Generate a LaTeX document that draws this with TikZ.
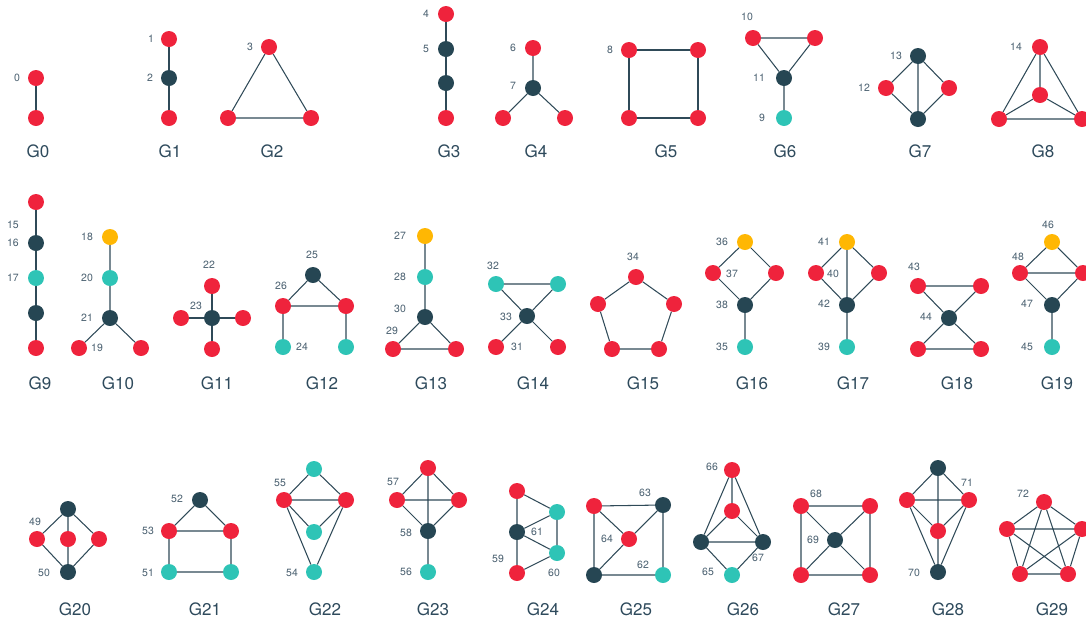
\documentclass[tikz,border=0pt]{standalone}
\usepackage{fontspec}
\setmainfont{TeX Gyre Heros}
\definecolor{cred}{HTML}{EF233C}
\definecolor{cdark}{HTML}{264653}
\definecolor{cteal}{HTML}{2EC4B6}
\definecolor{cyel}{HTML}{FFB703}
\definecolor{cedge}{HTML}{2F4A58}
\definecolor{cnum}{HTML}{4A6070}
\definecolor{cttl}{HTML}{2E4A5C}
\begin{document}
\begin{tikzpicture}[x=1pt,y=-1pt,
  vtx/.style={circle,minimum size=16pt,inner sep=0pt,draw=none},
  nr/.style={vtx,fill=cred},
  nd/.style={vtx,fill=cdark},
  nt/.style={vtx,fill=cteal},
  ny/.style={vtx,fill=cyel},
  ed/.style={draw=cedge,line width=1.05pt},
  num/.style={font=\fontsize{10.5}{12}\selectfont,text=cnum,inner sep=0pt},
  ttl/.style={font=\fontsize{17}{20}\selectfont,text=cttl,inner sep=0pt}]
\useasboundingbox (0,0) rectangle (1086,622);
% G0
\node[nr] (a0) at (36,78) {}; \node[nr] (a1) at (36,118) {};
\draw[ed] (a0)--(a1);
\node[num] (la0) at (17,78) {0}; \node[ttl] (ta) at (38,151) {G0};
% G1
\node[nr] (b0) at (169,39) {}; \node[nd] (b1) at (169,78) {}; \node[nr] (b2) at (169,118) {};
\draw[ed] (b0)--(b1) (b1)--(b2);
\node[num] (lb0) at (151,39) {1}; \node[num] (lb1) at (150,78) {2}; \node[ttl] (tb) at (170,151) {G1};
% G2
\node[nr] (c0) at (269,47) {}; \node[nr] (c1) at (228,118) {}; \node[nr] (c2) at (311,118) {};
\draw[ed] (c0)--(c1) (c0)--(c2) (c1)--(c2);
\node[num] (lc0) at (250,47) {3}; \node[ttl] (tc) at (272,151) {G2};
% G3
\node[nr] (d0) at (446,14) {}; \node[nd] (d1) at (446,49) {}; \node[nd] (d2) at (446,83) {}; \node[nr] (d3) at (446,118) {};
\draw[ed] (d0)--(d1) (d1)--(d2) (d2)--(d3);
\node[num] (ld0) at (426,14) {4}; \node[num] (ld1) at (426,49) {5}; \node[ttl] (td) at (449,151) {G3};
% G4
\node[nr] (e0) at (533,48) {}; \node[nd] (e1) at (533,88) {}; \node[nr] (e2) at (503,118) {}; \node[nr] (e3) at (565,118) {};
\draw[ed] (e0)--(e1) (e1)--(e2) (e1)--(e3);
\node[num] (le0) at (513,48) {6}; \node[num] (le1) at (513,86) {7}; \node[ttl] (te) at (536,151) {G4};
% G5
\node[nr] (f0) at (629,50) {}; \node[nr] (f1) at (698,50) {}; \node[nr] (f2) at (629,118) {}; \node[nr] (f3) at (698,118) {};
\draw[ed] (f0)--(f1) (f1)--(f3) (f3)--(f2) (f2)--(f0);
\node[num] (lf0) at (610,50) {8}; \node[ttl] (tf) at (666,151) {G5};
% G6
\node[nr] (g0) at (753,38) {}; \node[nr] (g1) at (815,38) {}; \node[nd] (g2) at (784,78) {}; \node[nt] (g3) at (784,118) {};
\draw[ed] (g0)--(g1) (g0)--(g2) (g1)--(g2) (g2)--(g3);
\node[num] (lg0) at (747,17) {10}; \node[num] (lg1) at (759,78) {11}; \node[num] (lg2) at (762,118) {9}; \node[ttl] (tg) at (785,151) {G6};
% G7
\node[nd] (h0) at (918,56) {}; \node[nr] (h1) at (886,88) {}; \node[nr] (h2) at (949,88) {}; \node[nd] (h3) at (918,119) {};
\draw[ed] (h0)--(h1) (h0)--(h2) (h0)--(h3) (h1)--(h3) (h2)--(h3);
\node[num] (lh0) at (896,56) {13}; \node[num] (lh1) at (864,88) {12}; \node[ttl] (th) at (920,151) {G7};
% G8
\node[nr] (i0) at (1040,47) {}; \node[nr] (i1) at (1040,95) {}; \node[nr] (i2) at (999,119) {}; \node[nr] (i3) at (1082,119) {};
\draw[ed] (i0)--(i1) (i0)--(i2) (i0)--(i3) (i1)--(i2) (i1)--(i3) (i2)--(i3);
\node[num] (li0) at (1016,47) {14}; \node[ttl] (ti) at (1043,151) {G8};
% G9
\node[nr] (j0) at (36,202) {}; \node[nd] (j1) at (36,243) {}; \node[nt] (j2) at (36,278) {}; \node[nd] (j3) at (36,313) {}; \node[nr] (j4) at (36,348) {};
\draw[ed] (j0)--(j1) (j1)--(j2) (j2)--(j3) (j3)--(j4);
\node[num] (lj0) at (13,225) {15}; \node[num] (lj1) at (13,243) {16}; \node[num] (lj2) at (13,278) {17}; \node[ttl] (tj) at (40,383) {G9};
% G10
\node[ny] (k0) at (110,237) {}; \node[nt] (k1) at (110,278) {}; \node[nd] (k2) at (110,318) {}; \node[nr] (k3) at (79,348) {}; \node[nr] (k4) at (141,348) {};
\draw[ed] (k0)--(k1) (k1)--(k2) (k2)--(k3) (k2)--(k4);
\node[num] (lk0) at (87,237) {18}; \node[num] (lk1) at (87,278) {20}; \node[num] (lk2) at (87,318) {21}; \node[num] (lk3) at (97,348) {19}; \node[ttl] (tk) at (118,383) {G10};
% G11
\node[nr] (l0) at (212,286) {}; \node[nr] (l1) at (181,318) {}; \node[nd] (l2) at (212,318) {}; \node[nr] (l3) at (243,318) {}; \node[nr] (l4) at (212,349) {};
\draw[ed] (l2)--(l0) (l2)--(l1) (l2)--(l3) (l2)--(l4);
\node[num] (ll0) at (209,265) {22}; \node[num] (ll1) at (196,306) {23}; \node[ttl] (tl) at (217,383) {G11};
% G12
\node[nd] (m0) at (313,275) {}; \node[nr] (m1) at (283,306) {}; \node[nr] (m2) at (346,306) {}; \node[nt] (m3) at (283,347) {}; \node[nt] (m4) at (346,347) {};
\draw[ed] (m0)--(m1) (m0)--(m2) (m1)--(m2) (m1)--(m3) (m2)--(m4);
\node[num] (lm0) at (312,255) {25}; \node[num] (lm1) at (281,286) {26}; \node[num] (lm2) at (302,347) {24}; \node[ttl] (tm) at (322,383) {G12};
% G13
\node[ny] (n0) at (425,236) {}; \node[nt] (n1) at (425,277) {}; \node[nd] (n2) at (425,317) {}; \node[nr] (n3) at (393,349) {}; \node[nr] (n4) at (456,349) {};
\draw[ed] (n0)--(n1) (n1)--(n2) (n2)--(n3) (n2)--(n4) (n3)--(n4);
\node[num] (ln0) at (400,236) {27}; \node[num] (ln1) at (400,277) {28}; \node[num] (ln2) at (400,309) {30}; \node[num] (ln3) at (392,331) {29}; \node[ttl] (tn) at (431,383) {G13};
% G14
\node[nt] (o0) at (496,284) {}; \node[nt] (o1) at (558,284) {}; \node[nd] (o2) at (527,316) {}; \node[nr] (o3) at (496,347) {}; \node[nr] (o4) at (558,347) {};
\draw[ed] (o0)--(o1) (o0)--(o2) (o1)--(o2) (o2)--(o3) (o2)--(o4);
\node[num] (lo0) at (493,266) {32}; \node[num] (lo1) at (506,317) {33}; \node[num] (lo2) at (517,347) {31}; \node[ttl] (to) at (533,383) {G14};
% G15
\node[nr] (p0) at (636,277) {}; \node[nr] (p1) at (674,304) {}; \node[nr] (p2) at (659,349) {}; \node[nr] (p3) at (612,349) {}; \node[nr] (p4) at (598,304) {};
\draw[ed] (p0)--(p1) (p1)--(p2) (p2)--(p3) (p3)--(p4) (p4)--(p0);
\node[num] (lp0) at (633,257) {34}; \node[ttl] (tp) at (643,383) {G15};
% G16
\node[ny] (q0) at (745,242) {}; \node[nr] (q1) at (713,273) {}; \node[nr] (q2) at (776,273) {}; \node[nd] (q3) at (745,305) {}; \node[nt] (q4) at (745,347) {};
\draw[ed] (q0)--(q1) (q0)--(q2) (q1)--(q3) (q2)--(q3) (q3)--(q4);
\node[num] (lq0) at (722,242) {36}; \node[num] (lq1) at (732,274) {37}; \node[num] (lq2) at (722,305) {38}; \node[num] (lq3) at (722,347) {35}; \node[ttl] (tq) at (752,383) {G16};
% G17
\node[ny] (r0) at (847,242) {}; \node[nr] (r1) at (816,273) {}; \node[nr] (r2) at (879,273) {}; \node[nd] (r3) at (847,305) {}; \node[nt] (r4) at (847,347) {};
\draw[ed] (r0)--(r1) (r0)--(r2) (r0)--(r3) (r1)--(r3) (r2)--(r3) (r3)--(r4);
\node[num] (lr0) at (824,242) {41}; \node[num] (lr1) at (833,274) {40}; \node[num] (lr2) at (824,304) {42}; \node[num] (lr3) at (824,347) {39}; \node[ttl] (tr) at (853,383) {G17};
% G18
\node[nr] (s0) at (918,286) {}; \node[nr] (s1) at (981,286) {}; \node[nd] (s2) at (949,318) {}; \node[nr] (s3) at (918,349) {}; \node[nr] (s4) at (981,349) {};
\draw[ed] (s0)--(s1) (s0)--(s2) (s1)--(s2) (s2)--(s3) (s2)--(s4) (s3)--(s4);
\node[num] (ls0) at (914,267) {43}; \node[num] (ls1) at (926,317) {44}; \node[ttl] (ts) at (957,383) {G18};
% G19
\node[ny] (u0) at (1052,242) {}; \node[nr] (u1) at (1020,273) {}; \node[nr] (u2) at (1083,273) {}; \node[nd] (u3) at (1052,305) {}; \node[nt] (u4) at (1052,347) {};
\draw[ed] (u0)--(u1) (u0)--(u2) (u1)--(u2) (u1)--(u3) (u2)--(u3) (u3)--(u4);
\node[num] (lu0) at (1048,225) {46}; \node[num] (lu1) at (1018,257) {48}; \node[num] (lu2) at (1027,304) {47}; \node[num] (lu3) at (1027,347) {45}; \node[ttl] (tu) at (1057,383) {G19};
% G20
\node[nd] (v0) at (68,509) {}; \node[nr] (v1) at (37,539) {}; \node[nr] (v2) at (68,539) {}; \node[nr] (v3) at (99,539) {}; \node[nd] (v4) at (68,572) {};
\draw[ed] (v0)--(v1) (v0)--(v2) (v0)--(v3) (v1)--(v4) (v2)--(v4) (v3)--(v4);
\node[num] (lv0) at (35,522) {49}; \node[num] (lv1) at (44,573) {50}; \node[ttl] (tv) at (75,609) {G20};
% G21
\node[nd] (w0) at (200,500) {}; \node[nr] (w1) at (169,531) {}; \node[nr] (w2) at (231,531) {}; \node[nt] (w3) at (169,572) {}; \node[nt] (w4) at (231,572) {};
\draw[ed] (w0)--(w1) (w0)--(w2) (w1)--(w2) (w1)--(w3) (w2)--(w4) (w3)--(w4);
\node[num] (lw0) at (177,499) {52}; \node[num] (lw1) at (148,531) {53}; \node[num] (lw2) at (148,573) {51}; \node[ttl] (tw) at (205,609) {G21};
% G22
\node[nt] (x0) at (314,469) {}; \node[nr] (x1) at (284,500) {}; \node[nr] (x2) at (346,500) {}; \node[nt] (x3) at (314,532) {}; \node[nt] (x4) at (314,572) {};
\draw[ed] (x0)--(x1) (x0)--(x2) (x1)--(x2) (x1)--(x3) (x2)--(x3) (x1)--(x4) (x2)--(x4);
\node[num] (lx0) at (280,483) {55}; \node[num] (lx1) at (292,573) {54}; \node[ttl] (tx) at (325,609) {G22};
% G23
\node[nr] (y0) at (428,468) {}; \node[nr] (y1) at (397,500) {}; \node[nr] (y2) at (459,500) {}; \node[nd] (y3) at (428,531) {}; \node[nt] (y4) at (428,572) {};
\draw[ed] (y0)--(y1) (y0)--(y2) (y1)--(y2) (y0)--(y3) (y1)--(y3) (y2)--(y3) (y3)--(y4);
\node[num] (ly0) at (393,482) {57}; \node[num] (ly1) at (406,533) {58}; \node[num] (ly2) at (406,572) {56}; \node[ttl] (ty) at (433,609) {G23};
% G24
\node[nr] (z0) at (517,491) {}; \node[nd] (z1) at (517,532) {}; \node[nr] (z2) at (517,573) {}; \node[nt] (z3) at (557,512) {}; \node[nt] (z4) at (557,553) {};
\draw[ed] (z0)--(z1) (z1)--(z2) (z0)--(z3) (z1)--(z3) (z1)--(z4) (z2)--(z4) (z3)--(z4);
\node[num] (lz0) at (537,532) {61}; \node[num] (lz1) at (498,559) {59}; \node[num] (lz2) at (554,573) {60}; \node[ttl] (tz) at (543,609) {G24};
% G25
\node[nr] (A0) at (594,506) {}; \node[nd] (A1) at (663,505) {}; \node[nr] (A2) at (629,539) {}; \node[nd] (A3) at (594,575) {}; \node[nt] (A4) at (663,575) {};
\draw[ed] (A0)--(A1) (A0)--(A3) (A1)--(A4) (A3)--(A4) (A0)--(A2) (A1)--(A2) (A3)--(A2);
\node[num] (lA0) at (645,493) {63}; \node[num] (lA1) at (607,539) {64}; \node[num] (lA2) at (643,565) {62}; \node[ttl] (tA) at (636,609) {G25};
% G26
\node[nr] (B0) at (732,470) {}; \node[nr] (B1) at (732,511) {}; \node[nd] (B2) at (701,542) {}; \node[nd] (B3) at (763,542) {}; \node[nt] (B4) at (732,575) {};
\draw[ed] (B0)--(B1) (B0)--(B2) (B0)--(B3) (B1)--(B2) (B1)--(B3) (B2)--(B3) (B2)--(B4) (B3)--(B4);
\node[num] (lB0) at (712,467) {66}; \node[num] (lB1) at (758,558) {67}; \node[num] (lB2) at (708,572) {65}; \node[ttl] (tB) at (743,609) {G26};
% G27
\node[nr] (C0) at (801,506) {}; \node[nr] (C1) at (870,506) {}; \node[nr] (C2) at (801,575) {}; \node[nr] (C3) at (870,575) {}; \node[nd] (C4) at (835,540) {};
\draw[ed] (C0)--(C1) (C1)--(C3) (C3)--(C2) (C2)--(C0) (C0)--(C4) (C1)--(C4) (C2)--(C4) (C3)--(C4);
\node[num] (lC0) at (816,494) {68}; \node[num] (lC1) at (813,540) {69}; \node[ttl] (tC) at (844,609) {G27};
% G28
\node[nd] (D0) at (938,468) {}; \node[nr] (D1) at (907,500) {}; \node[nr] (D2) at (969,500) {}; \node[nr] (D3) at (938,531) {}; \node[nd] (D4) at (938,572) {};
\draw[ed] (D0)--(D1) (D0)--(D2) (D0)--(D3) (D3)--(D4) (D1)--(D2) (D1)--(D3) (D2)--(D3) (D1)--(D4) (D2)--(D4);
\node[num] (lD0) at (967,483) {71}; \node[num] (lD1) at (914,573) {70}; \node[ttl] (tD) at (948,609) {G28};
% G29
\node[nr] (E0) at (1044,502) {}; \node[nr] (E1) at (1082,529) {}; \node[nr] (E2) at (1068,574) {}; \node[nr] (E3) at (1020,574) {}; \node[nr] (E4) at (1007,529) {};
\draw[ed] (E0)--(E1) (E0)--(E2) (E0)--(E3) (E0)--(E4) (E1)--(E2) (E1)--(E3) (E1)--(E4) (E2)--(E3) (E2)--(E4) (E3)--(E4);
\node[num] (lE0) at (1023,494) {72}; \node[ttl] (tE) at (1052,609) {G29};
\end{tikzpicture}
\end{document}
